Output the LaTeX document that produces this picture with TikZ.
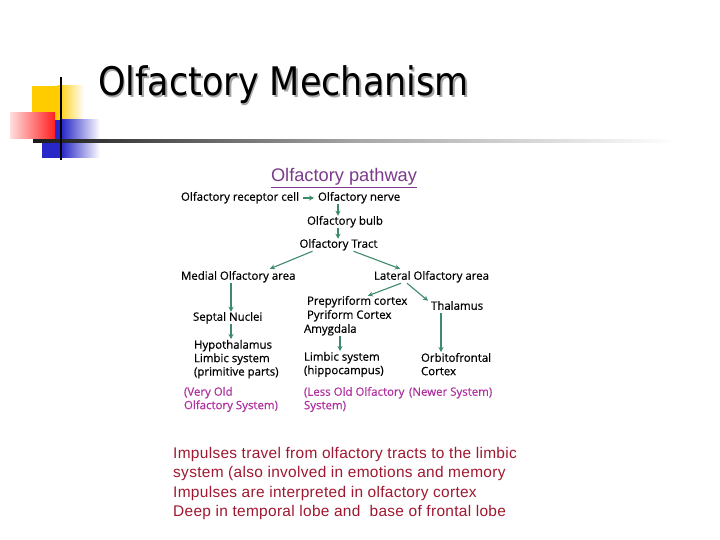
\documentclass[tikz,border=0pt]{standalone}
\usepackage{fontspec}
\setmainfont{Liberation Sans}
\newfontfamily\titlefont{DejaVu Sans}
\newfontfamily\diagfont[FakeBold=0.5]{Open Sans}
\usetikzlibrary{arrows.meta,calc}
\definecolor{arrgreen}{HTML}{3E8A6A}
\definecolor{headpurple}{HTML}{7B3A8C}
\definecolor{labmag}{HTML}{B030A0}
\definecolor{bodyred}{HTML}{A01830}
\definecolor{decyellow}{HTML}{FFCC00}
\definecolor{decred}{HTML}{FF2020}
\definecolor{decblue}{HTML}{2828C8}
\begin{document}
\begin{tikzpicture}[x=1bp,y=-1bp,
  dtext/.style={inner sep=0pt,outer sep=1pt,font=\diagfont\fontsize{11.5}{13.5}\selectfont,text height=8bp,text depth=2.5bp},
  dblock/.style={inner sep=0pt,outer sep=1pt,align=left,anchor=north west,font=\diagfont\fontsize{11.5}{13.5}\selectfont},
  mag/.style={text=labmag},
  arr/.style={draw=arrgreen,line width=1.1bp,-{Stealth[length=5bp,width=5bp]}}]
\useasboundingbox (0,0) rectangle (720,540);
\fill[white] (0,0) rectangle (720,540);
% decoration
\fill[decyellow] (32,86) rectangle (58,121);
\shade[left color=decyellow,right color=white] (57.5,86) rectangle (84,121);
\fill[decblue] (42,120) rectangle (62,158);
\shade[left color=decblue,right color=white] (61.5,120) rectangle (100,158);
\shade[left color=decred!15,right color=decred] (10,113) rectangle (55,139);
\shade[left color=black!90,right color=white,middle color=black!35] (33,140) rectangle (676,142.5);
\fill[black] (60.2,77) rectangle (62.2,160);
% title
\node[anchor=base west,inner sep=0pt,text=black!35] (titleshadow) at (99.5,97.5) {\titlefont\fontsize{39.5}{40}\selectfont\scalebox{0.89}[1]{Olfactory Mechanism}};
\node[anchor=base west,inner sep=0pt] (title) at (98,96) {\titlefont\fontsize{39.5}{40}\selectfont\scalebox{0.89}[1]{Olfactory Mechanism}};
% pathway heading
\node[inner sep=0pt,text=headpurple,font=\fontsize{18.3}{20}\selectfont] (head) at (344,177) {Olfactory pathway};
\draw[headpurple,line width=0.9bp] (head.south west|-0,187) -- (head.south east|-0,187);
% nodes
\node[dtext,anchor=west] (rc) at (180,198) {Olfactory receptor cell};
\node[dtext,anchor=west] (on) at (317,198) {Olfactory nerve};
\node[dtext] (ob) at (345,222) {Olfactory bulb};
\node[dtext] (ot) at (338.5,245) {Olfactory Tract};
\node[dtext,anchor=west] (med) at (180,277) {Medial Olfactory area};
\node[dtext,anchor=west] (lat) at (373,277) {Lateral Olfactory area};
\node[dtext,anchor=west] (pre) at (306,302) {Prepyriform cortex};
\node[dtext,anchor=west] (pyr) at (306,316) {Pyriform Cortex};
\node[dtext,anchor=west] (amy) at (303,330) {Amygdala};
\node[dtext,anchor=west] (thal) at (430,307) {Thalamus};
\node[dtext,anchor=west] (sep) at (192,318) {Septal Nuclei};
\node[dblock] (hyp) at (193,339) {Hypothalamus\\Limbic system\\(primitive parts)};
\node[dblock] (lim) at (303,351) {Limbic system\\(hippocampus)};
\node[dblock] (orb) at (420,352) {Orbitofrontal\\Cortex};
\node[dblock,mag] (vo) at (183,386) {(Very Old\\Olfactory System)};
\node[dblock,mag] (lo) at (303,386) {(Less Old Olfactory\\System)};
\node[dtext,anchor=west,mag] (nw) at (408,393) {(Newer System)};
% arrows
\coordinate (xa) at (338,0);
\coordinate (xm) at (231,0);
\coordinate (xl) at (340,0);
\coordinate (xt) at (441,0);
\draw[arr,shorten <=3bp,shorten >=3bp] (rc.east) -- (on.west);
\draw[arr] (xa|-on.south) -- (xa|-ob.north);
\draw[arr] (xa|-ob.south) -- (xa|-ot.north);
\draw[arr] ($(ot.south)+(-26,0)$) -- ($(med.north west)+(90,-2)$);
\draw[arr] ($(ot.south)+(15,0)$) -- ($(lat.north west)+(27,-2)$);
\draw[arr] (xm|-med.south) -- (xm|-sep.north);
\draw[arr] (xm|-sep.south) -- (xm|-hyp.north);
\draw[arr] ($(lat.south west)+(28,0)$) -- ($(pre.north west)+(62,0)$);
\draw[arr] ($(lat.south west)+(34,0)$) -- ($(thal.north west)+(-2,0)$);
\draw[arr] (xl|-amy.south) -- (xl|-lim.north);
\draw[arr] (xt|-thal.south) -- (xt|-orb.north);
% body text
\node[anchor=north west,inner sep=0pt,align=left,text=bodyred,font=\addfontfeature{LetterSpace=2}\fontsize{15.5}{19.5}\selectfont] (body) at (173,447) {Impulses travel from olfactory tracts to the limbic\\system (also involved in emotions and memory\\Impulses are interpreted in olfactory cortex\\Deep in temporal lobe and\ \ base of frontal lobe};
\end{tikzpicture}
\end{document}
